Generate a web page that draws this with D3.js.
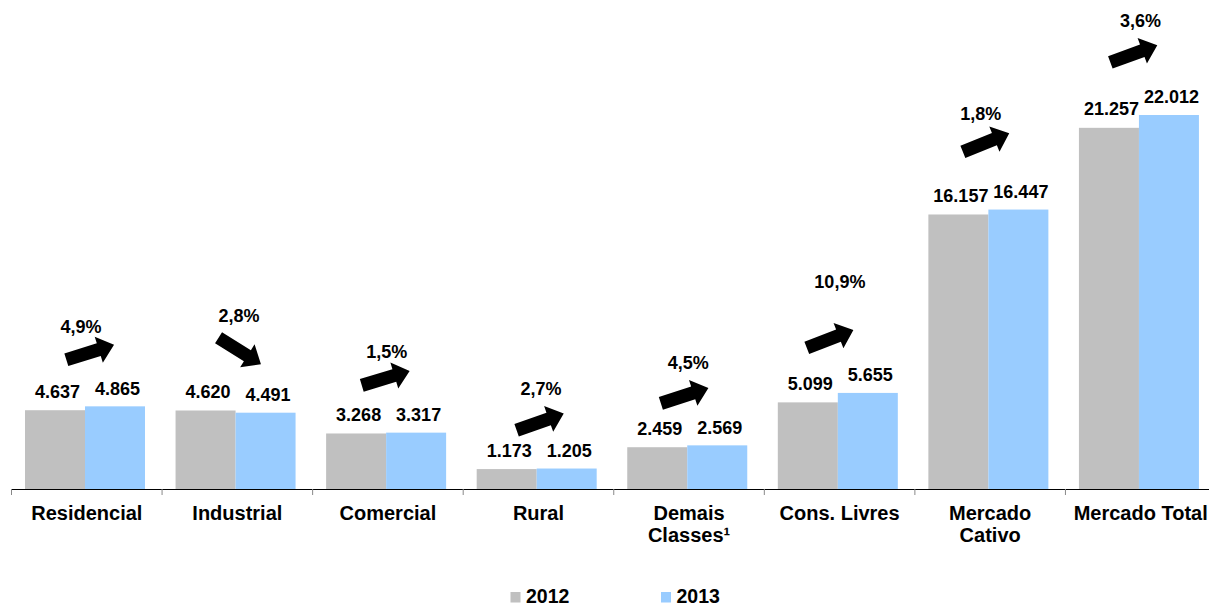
<!DOCTYPE html>
<html>
<head>
<meta charset="utf-8">
<script src="https://cdn.jsdelivr.net/npm/d3@7"></script>
<style>
  body { margin: 0; background: #fff; }
  text { font-family: "Liberation Sans", Arial, sans-serif; font-weight: bold; fill: #000; }
</style>
</head>
<body>
<div id="chart"></div>
<script>
// data -------------------------------------------------------------
var categories = ["Residencial", "Industrial", "Comercial", "Rural",
                  "Demais\nClasses¹", "Cons. Livres", "Mercado\nCativo", "Mercado Total"];
var years = ["2012", "2013"];
var values2012 = [4637, 4620, 3268, 1173, 2459, 5099, 16157, 21257];
var values2013 = [4865, 4491, 3317, 1205, 2569, 5655, 16447, 22012];
var growth = ["4,9%", "2,8%", "1,5%", "2,7%", "4,5%", "10,9%", "1,8%", "3,6%"];

// layout of the growth arrows (offsets from band centre / bar tops)
var arrowDx    = [3.4, 2.4, -2.2, 1.7, -4.4, -9.5, -4.1, -6.9];
var arrowRise  = [54, 59.5, 54.5, 46.6, 49.7, 54, 67, 61.2];
var arrowAngle = [-17.4, 32, -16.8, -19.5, -18, -21.2, -22, -20.1];
var labelDx    = [-5.8, 1.6, -1.2, 2.5, -0.8, 0.3, -9.3, -0.1];
var labelRise  = [19.5, 29, 20, 27, 26.4, 51, 22.7, 27];

var colors = { "2012": "#C0C0C0", "2013": "#99CCFF" };

var W = 1209, H = 607;
var svg = d3.select("#chart").append("svg")
    .attr("width", W).attr("height", H);

var x0 = d3.scaleBand().domain(categories).range([11.5, 1216]);
var x1 = d3.scaleBand().domain(years).range([13.5, 133.5]);
var y  = d3.scaleLinear().domain([0, 28780]).range([489, 0]);

var fmt = d3.formatLocale({ decimal: ",", thousands: ".", grouping: [3], currency: ["R$", ""] }).format(",d");

var rows = categories.map(function(c, i) {
    return { cat: c, i: i, vals: [
        { year: "2012", v: values2012[i] },
        { year: "2013", v: values2013[i] } ] };
});

// bars -------------------------------------------------------------
var groups = svg.selectAll("g.cat")
    .data(rows)
    .enter().append("g")
    .attr("class", "cat")
    .attr("transform", function(d) { return "translate(" + x0(d.cat) + ",0)"; });

groups.selectAll("rect")
    .data(function(d) { return d.vals; })
    .enter().append("rect")
    .attr("x", function(d) { return x1(d.year); })
    .attr("y", function(d) { return y(d.v); })
    .attr("width", x1.bandwidth())
    .attr("height", function(d) { return y(0) - y(d.v); })
    .attr("fill", function(d) { return colors[d.year]; });

groups.selectAll("text.val")
    .data(function(d) { return d.vals; })
    .enter().append("text")
    .attr("class", "val")
    .attr("x", function(d) { return x1(d.year) + x1.bandwidth() / 2 + 2.5; })
    .attr("y", function(d) { return y(d.v) - (d.year === "2012" ? 12.5 : 11.5); })
    .attr("text-anchor", "middle")
    .style("font-size", "18px")
    .text(function(d) { return fmt(d.v); });

// growth arrows ----------------------------------------------------
var L = 50, headL = 16, shaftH = 6.6, headH = 13.6;
var arrowPath = "M" + (-L/2) + "," + (-shaftH) +
    "L" + (L/2 - headL) + "," + (-shaftH) +
    "L" + (L/2 - headL) + "," + (-headH) +
    "L" + (L/2) + ",0" +
    "L" + (L/2 - headL) + "," + headH +
    "L" + (L/2 - headL) + "," + shaftH +
    "L" + (-L/2) + "," + shaftH + "Z";

rows.forEach(function(d) {
    var i = d.i;
    var cx = x0(d.cat) + x0.bandwidth() / 2;
    var top = y(Math.max(values2012[i], values2013[i]));
    var ay = top - arrowRise[i];
    svg.append("path")
        .attr("d", arrowPath)
        .attr("fill", "#000")
        .attr("transform", "translate(" + (cx + arrowDx[i]) + "," + ay + ") rotate(" + arrowAngle[i] + ")");
    svg.append("text")
        .attr("x", cx + labelDx[i])
        .attr("y", ay - labelRise[i])
        .attr("text-anchor", "middle")
        .style("font-size", "18px")
        .text(growth[i]);
});

// axis -------------------------------------------------------------
var axis = svg.append("g")
    .attr("transform", "translate(0," + y(0) + ")")
    .call(d3.axisBottom(x0).tickSize(0).tickSizeOuter(0).tickPadding(0));
axis.select(".domain").attr("stroke", "#000").attr("stroke-width", 1.2);
axis.selectAll(".tick text").each(function(d) {
    var t = d3.select(this).text("").attr("y", 0).attr("dy", null)
        .style("font-size", "20px")
        .style("font-family", '"Liberation Sans", Arial, sans-serif')
        .style("font-weight", "bold")
        .attr("fill", "#000");
    d.split("\n").forEach(function(line, k) {
        t.append("tspan").attr("x", 0).attr("y", 31 + k * 22).text(line);
    });
});
axis.selectAll("line.sep")
    .data(categories)
    .enter().append("line")
    .attr("class", "sep")
    .attr("x1", function(d) { return x0(d); })
    .attr("x2", function(d) { return x0(d); })
    .attr("y1", 0).attr("y2", 6)
    .attr("stroke", "#888").attr("stroke-width", 1);

// legend -----------------------------------------------------------
var legendX = { "2012": 510.5, "2013": 661 };
var legend = svg.selectAll("g.legend")
    .data(years)
    .enter().append("g")
    .attr("class", "legend")
    .attr("transform", function(d) { return "translate(" + legendX[d] + ",592)"; });
legend.append("rect")
    .attr("width", 10).attr("height", 10.5)
    .attr("fill", function(d) { return colors[d]; });
legend.append("text")
    .attr("x", 15.5).attr("y", 11.2)
    .style("font-size", "19.5px")
    .text(function(d) { return d; });
</script>
</body>
</html>
